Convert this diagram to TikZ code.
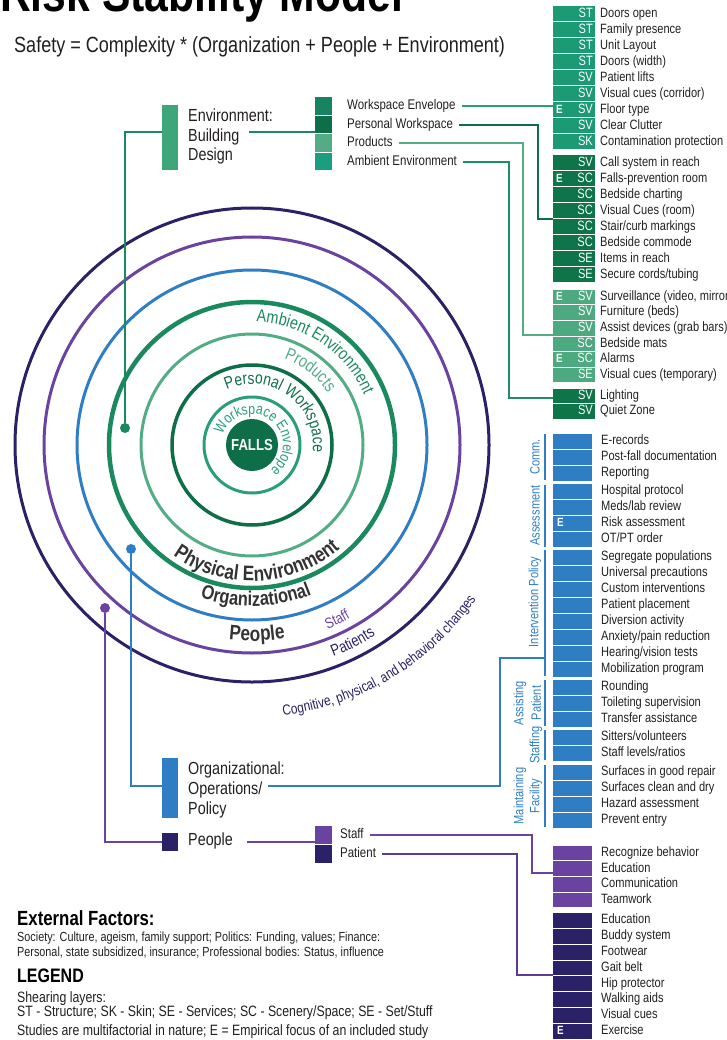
\documentclass[tikz,border=0pt]{standalone}
\usepackage{fontspec}
\setmainfont{Liberation Sans}[FakeStretch=0.82]
\usetikzlibrary{decorations.text}
\definecolor{txt}{HTML}{231F20}
\definecolor{gA}{HTML}{1B9A74}
\definecolor{gB}{HTML}{0E7549}
\definecolor{gC}{HTML}{4DAA80}
\definecolor{cWE}{HTML}{2A9E7A}
\definecolor{cPW}{HTML}{0E6E48}
\definecolor{cPR}{HTML}{52AD85}
\definecolor{cAM}{HTML}{1A8A5E}
\definecolor{cAMbox}{HTML}{1A9E7E}
\definecolor{envbar}{HTML}{3FA67A}
\definecolor{bl}{HTML}{2F7EC4}
\definecolor{pu}{HTML}{6A42A0}
\definecolor{nv}{HTML}{2A2166}
\definecolor{dg}{HTML}{333333}
\newcommand\rowsC[6]{%
\foreach \t/\c [count=\i from 0] in {#6}{%
 \pgfmathsetmacro\yy{-(#3+#4*\i)}%
 \fill[#2] (553,\yy+#4/2-0.5) rectangle (#5,\yy-#4/2+0.5);
 \node[code] (#1c\i) at (#5-2,\yy) {\c};
 \node[item] (#1t\i) at (600,\yy) {\t};
}}
\newcommand\rowsP[5]{%
\foreach \t [count=\i from 0] in {#5}{%
 \pgfmathsetmacro\yy{-(#3+#4*\i)}%
 \fill[#2] (553,\yy+#4/2-0.5) rectangle (592,\yy-#4/2+0.5);
 \node[item] (#1t\i) at (601,\yy) {\t};
}}
\begin{document}
\begin{tikzpicture}[x=1pt,y=1pt,
 item/.style={anchor=west, inner sep=0, text height=1.5ex, text depth=.25ex, font=\fontsize{13.5}{14}\selectfont, text=txt},
 code/.style={anchor=east, inner sep=0, text height=1.5ex, text depth=.25ex, font=\fontsize{13.5}{14}\selectfont, text=white},
 emark/.style={anchor=west, inner sep=0, text height=1.5ex, text depth=.25ex, font=\fontsize{12}{12}\selectfont\bfseries, text=white},
 dot/.style={circle, inner sep=0, minimum size=10},
 conn/.style={line width=1.6},
 blab/.style={rotate=90, inner sep=0, font=\fontsize{13.5}{14}\selectfont, text=bl},
 lab/.style={anchor=west, inner sep=0, text height=1.5ex, text depth=.25ex, font=\fontsize{17.5}{18}\selectfont, text=txt},
 sub/.style={anchor=west, inner sep=0, text height=1.5ex, text depth=.25ex, font=\fontsize{14}{14}\selectfont, text=txt},
 bar/.style={anchor=north west, inner sep=0, minimum width=16},
 sq/.style={anchor=north west, inner sep=0, minimum width=17, minimum height=17.5},
 btxt/.style={anchor=base west, inner sep=0, text=txt},
]
\useasboundingbox (0,0) rectangle (727,-1040);
% title
\node[anchor=base west, inner sep=0, font=\fontsize{52}{52}\selectfont\bfseries, text=black] (title) at (0,-12) {Risk Stability Model};
\node[anchor=west, inner sep=0, font=\fontsize{22}{22}\selectfont, text=txt] (eq) at (14,-47) {Safety = Complexity * (Organization + People + Environment)};
% circles
\coordinate (C) at (252,-445);
\draw[nv, line width=3] (C) circle[radius=237];
\draw[pu, line width=3] (C) circle[radius=208];
\draw[bl, line width=3] (C) circle[radius=175];
\draw[cAM, line width=4.5] (C) circle[radius=143];
\draw[cPR, line width=3] (C) circle[radius=111];
\draw[cPW, line width=3.5] (C) circle[radius=80];
\draw[cWE, line width=3] (C) circle[radius=48];
\node[circle, fill=cPW, minimum size=52, inner sep=0, text=white, font=\fontsize{16}{16}\selectfont\bfseries] (falls) at (C) {FALLS};
% curved labels
\path[decorate, decoration={text along path, text align=center, text={|\fontsize{17.5}{18}\selectfont\color{cAM}|Ambient Environment}}] ([shift={(130:123)}]C) arc[start angle=130, end angle=-18, radius=123];
\path[decorate, decoration={text along path, text align=center, text={|\fontsize{17.5}{18}\selectfont\color{cPR}|Products}}] ([shift={(120:92)}]C) arc[start angle=120, end angle=-16, radius=92];
\path[decorate, decoration={text along path, text align=center, text={|\fontsize{17}{18}\selectfont\color{cPW}|Personal Workspace}}] ([shift={(150:61)}]C) arc[start angle=150, end angle=-42, radius=61];
\path[decorate, decoration={text along path, text align=center, text={|\fontsize{15}{16}\selectfont\color{cWE}|Workspace Envelope}}] ([shift={(200:31)}]C) arc[start angle=200, end angle=-93, radius=31];
\path[decorate, decoration={text along path, text align=center, text={|\fontsize{21}{22}\selectfont\bfseries\color{dg}|Physical Environment}}] ([shift={(225:136)}]C) arc[start angle=225, end angle=320, radius=136];
\path[decorate, decoration={text along path, text align=center, text={|\fontsize{20}{22}\selectfont\bfseries\color{dg}|Organizational}}] ([shift={(231:161)}]C) arc[start angle=231, end angle=312, radius=161];
\path[decorate, decoration={text along path, text align=center, text={|\fontsize{21}{22}\selectfont\bfseries\color{dg}|People}}] ([shift={(241:196)}]C) arc[start angle=241, end angle=302, radius=196];
\path[decorate, decoration={text along path, text align=center, text={|\fontsize{15}{16}\selectfont\color{pu}|Staff}}] ([shift={(276:199)}]C) arc[start angle=276, end angle=316, radius=199];
\path[decorate, decoration={text along path, text align=center, text={|\fontsize{16}{16}\selectfont\color{nv}|Patients}}] ([shift={(277:227)}]C) arc[start angle=277, end angle=317, radius=227];
\path[decorate, decoration={text along path, text align=center, text={|\fontsize{14.5}{15}\selectfont\color{nv}|Cognitive, physical, and behavioral changes}}] ([shift={(250:272)}]C) arc[start angle=250, end angle=352, radius=272];
% dots
\node[dot, fill=cAM] (dG) at (125,-428) {};
\node[dot, fill=bl] (dB) at (131,-549) {};
\node[dot, fill=pu] (dP) at (105,-608) {};
% environment block
\node[bar, fill=envbar, minimum height=65] (envb) at (162,-105) {};
\node[anchor=north west, inner sep=0, align=left, font=\fontsize{17.5}{19.5}\selectfont, text=txt] (envt) at (188,-109) {Environment:\\Building\\Design};
\coordinate (envIn) at (162,-132);
\coordinate (envOut) at (249,-132);
\coordinate (sqIn) at (315,-132);
\draw[cAM, conn] (dG) |- (envIn);
\draw[cAM, conn] (envOut) -- (sqIn);
\node[sq, fill=gA!85!black] (s1) at (315,-97) {};
\node[sq, fill=cPW] (s2) at (315,-115.5) {};
\node[sq, fill=cPR] (s3) at (315,-134) {};
\node[sq, fill=cAMbox] (s4) at (315,-152.5) {};
\node[sub] (lwe) at (347,-106) {Workspace Envelope};
\node[sub] (lpw) at (347,-125) {Personal Workspace};
\node[sub] (lpr) at (347,-143) {Products};
\node[sub] (lam) at (347,-162) {Ambient Environment};
% green lists
\rowsC{ga}{gA}{14}{16}{595}{Doors open/ST, Family presence/ST, Unit Layout/ST, Doors (width)/ST, Patient lifts/SV, Visual cues (corridor)/SV, Floor type/SV, Clear Clutter/SV, Contamination protection/SK}
\rowsC{gb}{gB}{163}{16}{595}{Call system in reach/SV, Falls-prevention room/SC, Bedside charting/SC, Visual Cues (room)/SC, {Stair/curb markings}/SC, Bedside commode/SC, Items in reach/SE, {Secure cords/tubing}/SE}
\rowsC{gc}{gC}{297}{15.6}{595}{{Surveillance (video, mirror)}/SV, Furniture (beds)/SV, Assist devices (grab bars)/SV, Bedside mats/SC, Alarms/SC, Visual cues (temporary)/SE}
\rowsC{gd}{gB}{396}{15.6}{595}{Lighting/SV, Quiet Zone/SV}
\node[emark] (e1) at (556,-110) {E};
\node[emark] (e2) at (556,-179) {E};
\node[emark] (e3) at (556,-297) {E};
\node[emark] (e4) at (556,-359.4) {E};
% green connectors
\coordinate (weEnd) at (553,-106);
\coordinate (pwEnd) at (553,-219);
\coordinate (prEnd) at (553,-335);
\coordinate (amEnd) at (553,-398);
\draw[cWE, conn] ([xshift=6]lwe.east) -- (weEnd);
\draw[cPW, conn] ([xshift=6]lpw.east) -| (538,-219) -- (pwEnd);
\draw[cPR, conn] ([xshift=6]lpr.east) -| (523,-335) -- (prEnd);
\draw[cAM!80!cWE, conn] ([xshift=6]lam.east) -| (509,-398) -- (amEnd);
% blue block
\node[bar, fill=bl, minimum height=60] (orgb) at (162,-758) {};
\node[anchor=north west, inner sep=0, align=left, font=\fontsize{17.5}{20}\selectfont, text=txt] (orgt) at (188,-762) {Organizational:\\Operations/\\Policy};
\coordinate (orgIn) at (162,-786);
\coordinate (orgOut) at (268,-786);
\coordinate (intIn) at (545,-658);
\draw[bl, conn] (dB) |- (orgIn);
\draw[bl, conn] (orgOut) -| (500,-658) -- (intIn);
\rowsP{ba}{bl}{441}{16}{E-records, Post-fall documentation, Reporting}
\rowsP{bb}{bl}{491.5}{16}{Hospital protocol, Meds/lab review, Risk assessment, OT/PT order}
\rowsP{bc}{bl}{557}{16}{Segregate populations, Universal precautions, Custom interventions, Patient placement, Diversion activity, Anxiety/pain reduction, Hearing/vision tests, Mobilization program}
\rowsP{bd}{bl}{687}{16}{Rounding, Toileting supervision, Transfer assistance}
\rowsP{be}{bl}{737}{16}{Sitters/volunteers, Staff levels/ratios}
\rowsP{bf}{bl}{772}{16}{Surfaces in good repair, Surfaces clean and dry, Hazard assessment, Prevent entry}
\node[emark] (e5) at (557,-523.5) {E};
\draw[bl, line width=1.5] (545,-434) -- (545,-480);
\draw[bl, line width=1.5] (545,-484.5) -- (545,-546.5);
\draw[bl, line width=1.5] (545,-550) -- (545,-676);
\draw[bl, line width=1.5] (545,-680) -- (545,-726);
\draw[bl, line width=1.5] (545,-730) -- (545,-760);
\draw[bl, line width=1.5] (545,-765) -- (545,-827);
\node[blab] (lc) at (535,-457) {Comm.};
\node[blab] (la) at (535,-515.5) {Assessment};
\node[blab] (li) at (535,-602) {Intervention Policy};
\node[blab] (lap1) at (520,-703) {Assisting};
\node[blab] (lap2) at (536,-703) {Patient};
\node[blab] (ls) at (536,-745) {Staffing};
\node[blab] (lm1) at (520,-796) {Maintaining};
\node[blab] (lm2) at (536,-796) {Facility};
% people block
\node[bar, fill=nv, minimum height=18] (pb) at (162,-833) {};
\node[lab] (pt) at (188,-842) {People};
\coordinate (pIn) at (162,-842);
\coordinate (pOut) at (247,-842);
\coordinate (spIn) at (315,-842);
\draw[pu, conn] (dP) |- (pIn);
\draw[pu, conn] (pOut) -- (spIn);
\node[sq, fill=pu] (ss) at (315,-826) {};
\node[sq, fill=nv] (sp) at (315,-845) {};
\node[sub] (lst) at (340,-835) {Staff};
\node[sub] (lpa) at (340,-854) {Patient};
\coordinate (stEnd) at (553,-873);
\coordinate (paEnd) at (553,-975);
\draw[pu, conn] ([xshift=6]lst.east) -| (532,-873) -- (stEnd);
\draw[pu!80!nv, conn] ([xshift=6]lpa.east) -| (517,-975) -- (paEnd);
\rowsP{pa}{pu}{853}{15.7}{Recognize behavior, Education, Communication, Teamwork}
\rowsP{pc}{nv}{920.5}{15.8}{Education, Buddy system, Footwear, Gait belt, Hip protector, Walking aids, Visual cues, Exercise}
\node[emark] (e6) at (557,-1031) {E};
% bottom text
\node[btxt, font=\fontsize{20.5}{21}\selectfont\bfseries, text=black] (ext) at (17,-925) {External Factors:};
\node[btxt, font=\fontsize{13.2}{15}\selectfont] (soc1) at (17,-941) {Society: Culture, ageism, family support; Politics: Funding, values; Finance:};
\node[btxt, font=\fontsize{13.2}{15}\selectfont] (soc2) at (17,-956) {Personal, state subsidized, insurance; Professional bodies: Status, influence};
\node[btxt, font=\fontsize{19.5}{20}\selectfont\bfseries, text=black] (leg) at (17,-982) {LEGEND};
\node[btxt, font=\fontsize{15}{15}\selectfont] (sh) at (17,-1002) {Shearing layers:};
\node[btxt, font=\fontsize{15}{15}\selectfont] (st) at (17,-1016) {ST - Structure; SK - Skin; SE - Services; SC - Scenery/Space; SE - Set/Stuff};
\node[btxt, font=\fontsize{15}{15}\selectfont] (stu) at (17,-1035) {Studies are multifactorial in nature; E = Empirical focus of an included study};
\end{tikzpicture}
\end{document}
